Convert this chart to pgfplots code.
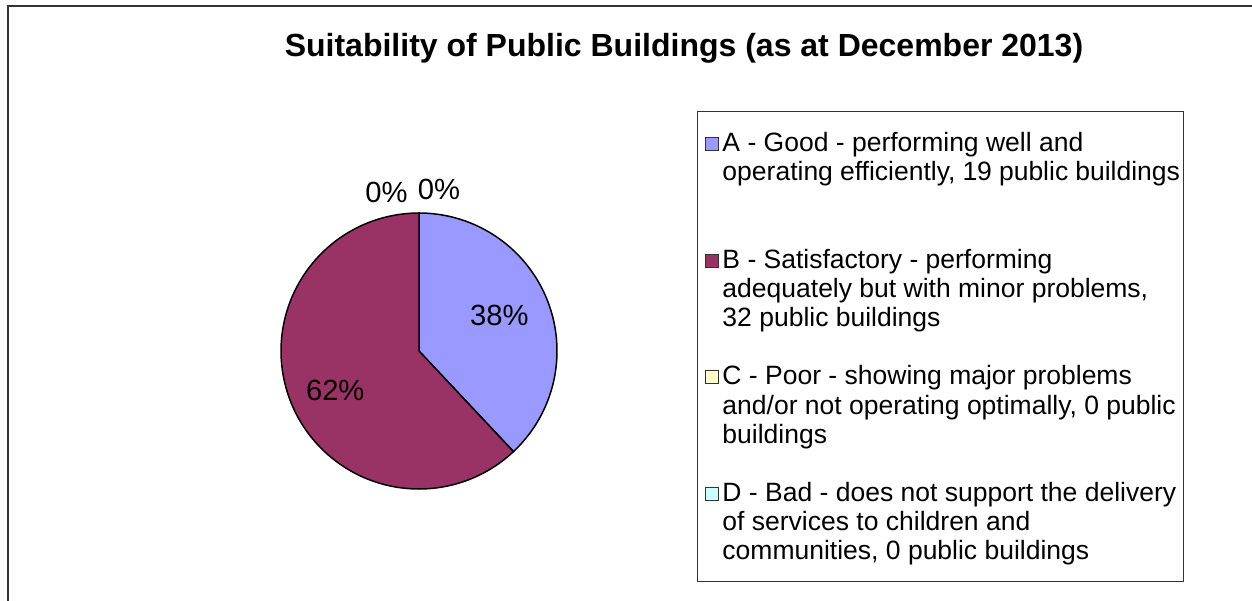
\documentclass[border=0pt]{standalone}
\usepackage{pgfplots}
\pgfplotsset{compat=1.18}
\usepackage{fontspec}
\setmainfont{Liberation Sans}

\definecolor{gradeA}{HTML}{9999FF}
\definecolor{gradeB}{HTML}{993366}
\definecolor{gradeC}{HTML}{FFFFCC}
\definecolor{gradeD}{HTML}{CCFFFF}

% slice values (the pie shows 38% / 62%)
\def\valA{19}
\def\valB{31}
\def\valC{0}
\def\valD{0}

% three-line legend entry, baseline 4.38bp under the last line
\newcommand{\entry}[3]{\raisebox{4.38bp}{\parbox[b]{228.75bp}{\rule{0pt}{15bp}\strut #1\\ \strut #2\\ \strut #3}}}

\begin{document}
\begin{tikzpicture}
\useasboundingbox (0,0) rectangle (626bp,-300.5bp);
% chart area frame (cropped: only left and top edges show)
\draw[line width=1bp, black!80] (3.85bp,-300.5bp) -- (3.85bp,-3bp) -- (626bp,-3bp);

\node[font=\fontsize{16bp}{18bp}\selectfont\bfseries] at (342bp,-24bp)
  {Suitability of Public Buildings (as at December 2013)};

\pgfmathsetmacro{\tot}{\valA+\valB+\valC+\valD}
\pgfmathsetmacro{\angA}{90-360*\valA/\tot}
\pgfmathsetmacro{\angB}{\angA-360*\valB/\tot}

\begin{axis}[
  at={(209.5bp,-175.5bp)}, anchor=center,
  width=138bp, height=138bp, scale only axis,
  xmin=-1, xmax=1, ymin=-1, ymax=1,
  hide axis, clip=false,
  legend image code/.code={
    \path[draw=none, fill=none] (0bp,0bp) -- (9bp,0bp);
    \draw[#1, line width=0.5bp, draw=black!80] (2bp,34.08bp) rectangle (8.5bp,40.58bp);
  },
  legend style={
    at={(1.509,1.3696)}, anchor=north west,
    draw=black!80, line width=0.5bp,
    inner xsep=1.75bp, inner ysep=5bp,
    row sep=8.27bp, column sep=1.5bp,
    font=\fontsize{13.25bp}{14.6bp}\selectfont,
    cells={anchor=base west},
    nodes={inner sep=0pt},
  },
]
\addplot[fill=gradeA, draw=black, line width=0.75bp, domain=90:\angA, samples=90]
  ({cos(x)},{sin(x)}) -- (0,0) -- cycle;
\addlegendentry{\entry{A - Good - performing well and}{operating efficiently, 19 public buildings}{}}
\addplot[fill=gradeB, draw=black, line width=0.75bp, domain=\angA:\angB, samples=120]
  ({cos(x)},{sin(x)}) -- (0,0) -- cycle;
\addlegendentry{\entry{B - Satisfactory - performing}{adequately but with minor problems,}{32 public buildings}}
\addlegendimage{fill=gradeC, draw=black}
\addlegendentry{\entry{C - Poor - showing major problems}{and/or not operating optimally, 0 public}{buildings}}
\addlegendimage{fill=gradeD, draw=black}
\addlegendentry{\entry{D - Bad - does not support the delivery}{of services to children and}{communities, 0 public buildings}}

\node[font=\fontsize{14.6bp}{16bp}\selectfont] at (axis cs:0.583,0.261) {38\%};
\node[font=\fontsize{14.6bp}{16bp}\selectfont] at (axis cs:-0.607,-0.288) {62\%};
\node[font=\fontsize{14.6bp}{16bp}\selectfont] at (axis cs:-0.236,1.149) {0\%};
\node[font=\fontsize{14.6bp}{16bp}\selectfont] at (axis cs:0.145,1.174) {0\%};
\end{axis}
\end{tikzpicture}
\end{document}
